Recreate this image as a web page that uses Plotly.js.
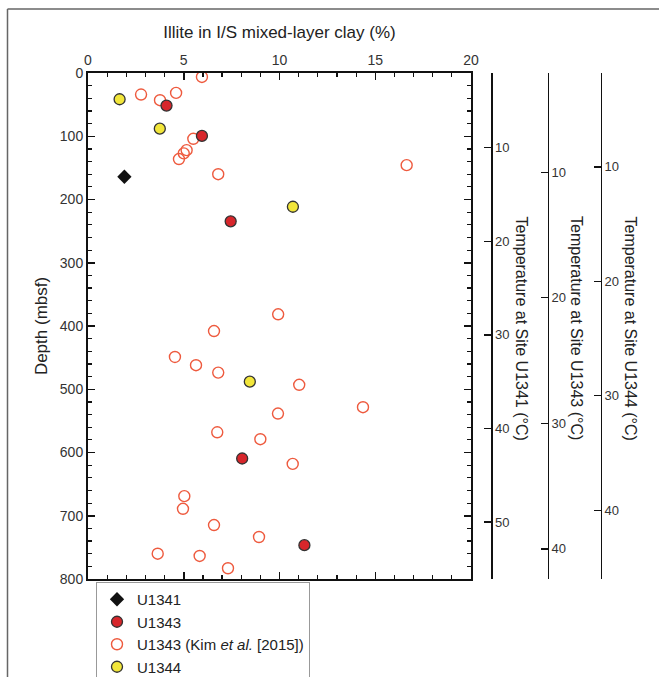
<!DOCTYPE html>
<html>
<head>
<meta charset="utf-8">
<script src="https://cdn.plot.ly/plotly-3.0.1.min.js"></script>
<style>
  html, body { margin: 0; padding: 0; background: #fff; }
  #chart { width: 659px; height: 677px; }
</style>
</head>
<body>
<div id="chart"></div>
<script>
// ---- data ----
const u1341Illite = [1.9];
const u1341Depth  = [164];

const u1343Illite = [4.1, 5.95, 7.45, 8.05, 11.3];
const u1343Depth  = [51.5, 99.5, 234.5, 609.5, 746.5];

const kimIllite = [5.95, 4.6, 2.77, 3.76, 5.5, 5.15, 5.0, 4.75, 16.64, 6.8,
                   9.93, 6.58, 4.54, 5.64, 6.8, 11.03, 14.36, 9.92, 6.75, 9.0,
                   10.69, 5.03, 4.96, 6.58, 8.93, 3.64, 5.83, 7.31];
const kimDepth  = [6.3, 31.5, 34, 43, 104, 122, 127, 136, 145.7, 160,
                   381.5, 408, 449, 462, 473.7, 493, 528.4, 538.4, 568, 579,
                   618, 669, 689, 714.7, 733.6, 760, 763.6, 783];

const u1344Illite = [1.65, 3.75, 10.7, 8.45];
const u1344Depth  = [41.5, 88, 211.5, 488];

const illiteTicks = [0, 5, 10, 15, 20];
const depthTicks  = [0, 100, 200, 300, 400, 500, 600, 700, 800];

const tempTicksU1341 = [10, 20, 30, 40, 50];
const tempTicksU1343 = [10, 20, 30, 40];
const tempTicksU1344 = [10, 20, 30, 40];

// temperature at bottom / top of the depth scale for each site axis
const tempRangeU1341 = [56.1, 2.0];
const tempRangeU1343 = [42.4, 2.1];
const tempRangeU1344 = [46.0, 1.8];

const tempTitles = ['Temperature at Site U1341 (°C)',
                    'Temperature at Site U1343 (°C)',
                    'Temperature at Site U1344 (°C)'];

// ---- chart ----
const FONT = 'Liberation Sans, Arial, Helvetica, sans-serif';
const TXT = '#333';

const traces = [
  {
    x: kimIllite, y: kimDepth, type: 'scatter', mode: 'markers',
    name: 'U1343 (Kim <i>et al.</i> [2015])', legendrank: 3,
    marker: { symbol: 'circle-open', size: 11, color: '#EE5A3E', line: { width: 1.4, color: '#EE5A3E' } }
  },
  {
    x: u1341Illite, y: u1341Depth, type: 'scatter', mode: 'markers',
    name: 'U1341', legendrank: 1,
    marker: { symbol: 'diamond', size: 11, color: '#111' }
  },
  {
    x: u1343Illite, y: u1343Depth, type: 'scatter', mode: 'markers',
    name: 'U1343', legendrank: 2,
    marker: { symbol: 'circle', size: 11, color: '#D7262B', line: { width: 1.3, color: '#333' } }
  },
  {
    x: u1344Illite, y: u1344Depth, type: 'scatter', mode: 'markers',
    name: 'U1344', legendrank: 4,
    marker: { symbol: 'circle', size: 11, color: '#F2E63A', line: { width: 1.3, color: '#333' } }
  },
  // empty placeholder traces so that the three temperature axes are drawn
  { x: [], y: [], yaxis: 'y2', type: 'scatter', mode: 'markers', showlegend: false, hoverinfo: 'skip' },
  { x: [], y: [], yaxis: 'y3', type: 'scatter', mode: 'markers', showlegend: false, hoverinfo: 'skip' },
  { x: [], y: [], yaxis: 'y4', type: 'scatter', mode: 'markers', showlegend: false, hoverinfo: 'skip' }
];

const L = 88, R = 49, T = 73, B = 98;
const W = 659, H = 677;
const pw = W - L - R, ph = H - T - B;
const px = v => (v - L) / pw;            // pixel -> paper x
const py = v => (H - B - v) / ph;        // pixel -> paper y

function tempAxis(range, ticks, pos) {
  return {
    overlaying: 'y', anchor: 'free', position: pos, side: 'right',
    range: range, tickvals: ticks, ticktext: ticks.map(String),
    showline: true, linecolor: '#111', linewidth: 1.5,
    ticks: 'inside', ticklen: 7, tickwidth: 1.3, tickcolor: '#111',
    showgrid: false, zeroline: false,
    tickfont: { family: FONT, size: 13, color: TXT }
  };
}

const layout = {
  width: W, height: H,
  margin: { l: L, r: R, t: T, b: B, pad: 0, autoexpand: false },
  paper_bgcolor: '#fff', plot_bgcolor: '#fff',
  font: { family: FONT, color: TXT },
  showlegend: true,
  legend: {
    x: px(96), y: py(582), xanchor: 'left', yanchor: 'top',
    bgcolor: '#fff', bordercolor: '#999', borderwidth: 1,
    font: { family: FONT, size: 15, color: '#222' },
    itemwidth: 30, tracegroupgap: 0,
    traceorder: 'normal'
  },
  xaxis: {
    domain: [0, px(471)],
    side: 'top', range: [0, 20], tickvals: illiteTicks,
    showline: true, linecolor: '#111', linewidth: 2, mirror: 'ticks',
    ticks: 'inside', ticklen: 7, tickwidth: 1.5, tickcolor: '#111',
    minor: { dtick: 1, ticks: 'inside', ticklen: 4, tickwidth: 1.2, tickcolor: '#111' },
    showgrid: false, zeroline: false,
    tickfont: { family: FONT, size: 14, color: TXT },
    title: { text: 'Illite in I/S mixed-layer clay (%)', font: { family: FONT, size: 17, color: '#222' }, standoff: 9 }
  },
  yaxis: {
    range: [800, 0], tickvals: depthTicks,
    showline: true, linecolor: '#111', linewidth: 2, mirror: 'ticks',
    ticks: 'inside', ticklen: 7, tickwidth: 1.5, tickcolor: '#111',
    minor: { dtick: 20, ticks: 'inside', ticklen: 4, tickwidth: 1.2, tickcolor: '#111' },
    showgrid: false, zeroline: false,
    tickfont: { family: FONT, size: 14, color: TXT },
    title: { text: 'Depth (mbsf)', font: { family: FONT, size: 17, color: '#222' }, standoff: 8 }
  },
  yaxis2: tempAxis(tempRangeU1341, tempTicksU1341, px(491)),
  yaxis3: tempAxis(tempRangeU1343, tempTicksU1343, px(547.5)),
  yaxis4: tempAxis(tempRangeU1344, tempTicksU1344, px(600.5)),
  annotations: [
    { text: tempTitles[0], x: px(521.5), y: py(328) },
    { text: tempTitles[1], x: px(577), y: py(328) },
    { text: tempTitles[2], x: px(630.5), y: py(328) }
  ].map(a => Object.assign({
    xref: 'paper', yref: 'paper', textangle: 90, showarrow: false,
    xanchor: 'center', yanchor: 'middle',
    font: { family: FONT, size: 16, color: '#222' }
  }, a)),
  shapes: [
    { type: 'line', xref: 'paper', yref: 'paper', x0: px(7.5), x1: px(659), y0: py(9), y1: py(9),
      line: { color: '#666', width: 1.5 } },
    { type: 'line', xref: 'paper', yref: 'paper', x0: px(7.5), x1: px(7.5), y0: py(9), y1: py(677),
      line: { color: '#666', width: 1.5 } }
  ]
};

Plotly.newPlot('chart', traces, layout, { displayModeBar: false, staticPlot: true });
</script>
</body>
</html>
